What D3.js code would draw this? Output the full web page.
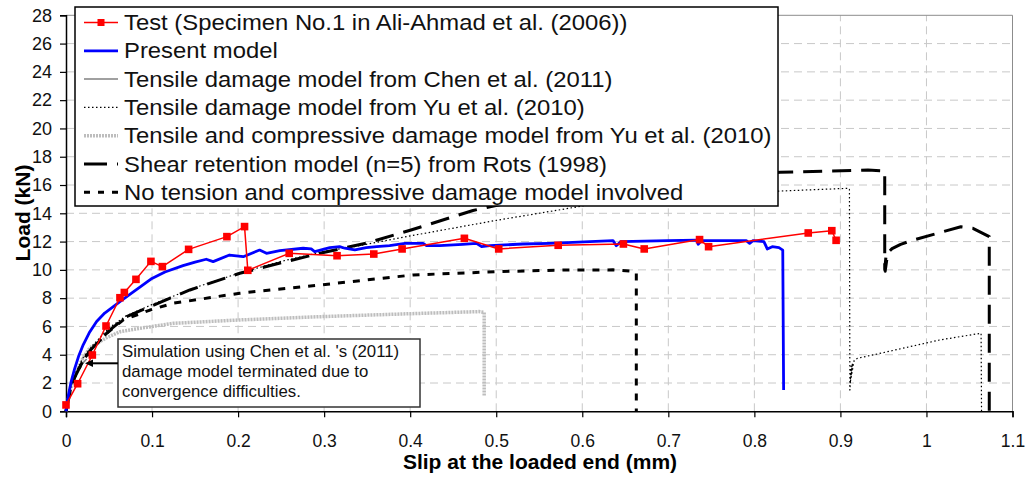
<!DOCTYPE html>
<html><head><meta charset="utf-8">
<script src="https://cdn.jsdelivr.net/npm/d3@7"></script>
<style>
html,body{margin:0;padding:0;background:#fff;}
svg text{font-family:"Liberation Sans",Arial,sans-serif;}
</style></head>
<body><svg id="c" width="1029" height="477"></svg>
<script>
// ---------- data ----------
const xTicks = [0,0.1,0.2,0.3,0.4,0.5,0.6,0.7,0.8,0.9,1,1.1];
const yTicks = [0,2,4,6,8,10,12,14,16,18,20,22,24,26,28];

const testData = [[0,0.45],[0.0135,1.95],[0.0306,3.98],[0.0465,6.03],[0.0627,8.03],[0.0678,8.4],[0.0813,9.33],[0.0987,10.6],[0.112,10.23],[0.1425,11.45],[0.187,12.35],[0.2075,13.06],[0.2113,9.97],[0.2594,11.17],[0.315,11.0],[0.3577,11.12],[0.3906,11.48],[0.463,12.23],[0.5029,11.48],[0.572,11.74],[0.6478,11.83],[0.672,11.48],[0.7363,12.14],[0.7468,11.64],[0.8626,12.61],[0.89,12.77],[0.895,12.09]];

const presentModel = [[0,0],[0.003,1.2],[0.006,2.1],[0.01,3.0],[0.015,3.95],[0.02,4.7],[0.027,5.55],[0.0356,6.35],[0.045,6.95],[0.055,7.4],[0.0627,7.75],[0.075,8.3],[0.0875,8.85],[0.0987,9.35],[0.115,9.85],[0.136,10.3],[0.15,10.55],[0.163,10.75],[0.171,10.58],[0.19,11.05],[0.206,10.93],[0.225,11.4],[0.233,11.17],[0.2485,11.36],[0.2756,11.53],[0.285,11.48],[0.289,11.29],[0.3066,11.57],[0.318,11.64],[0.324,11.53],[0.3357,11.41],[0.349,11.57],[0.361,11.64],[0.376,11.71],[0.394,11.88],[0.415,11.88],[0.419,11.71],[0.434,11.71],[0.461,11.81],[0.477,11.88],[0.483,11.64],[0.4925,11.71],[0.531,11.83],[0.5621,11.88],[0.6357,12.07],[0.6395,11.71],[0.645,12.0],[0.6995,12.07],[0.7328,12.11],[0.7347,11.81],[0.7386,12.07],[0.7906,12.07],[0.7945,11.88],[0.7984,12.07],[0.8111,12.0],[0.815,11.48],[0.8208,11.64],[0.8286,11.57],[0.833,11.4],[0.834,1.5]];

const chenTensile = [[0,0],[0.005,1.6],[0.01,2.5],[0.018,3.3],[0.024,3.7]];

const yuTensile = [[0,0],[0.005,1.6],[0.01,2.6],[0.02,3.8],[0.03,4.6],[0.05,5.9],[0.07,6.75],[0.1,7.55],[0.15,8.75],[0.2,9.75],[0.25,10.6],[0.3,11.3],[0.334,11.64],[0.4,12.4],[0.5,13.5],[0.6086,14.6],[0.7,15.1],[0.78,15.4],[0.829,15.57],[0.9095,15.77],[0.9105,15.7],[0.911,1.5],[0.9125,3.2],[0.9115,2.0],[0.914,3.4],[0.9125,2.4],[0.916,3.6],[0.92,3.75],[0.95,4.15],[1.015,5.04],[1.0635,5.52],[1.064,0]];

const yuTensComp = [[0,0],[0.005,1.5],[0.01,2.5],[0.02,3.8],[0.028,4.5],[0.047,5.2],[0.063,5.63],[0.086,5.87],[0.1246,6.22],[0.202,6.46],[0.295,6.69],[0.4,6.9],[0.48,7.05],[0.486,7.0],[0.486,1.08]];

const rotsShear = [[0,0],[0.005,1.5],[0.0085,2.2],[0.02,3.6],[0.028,4.3],[0.05,5.7],[0.0705,6.7],[0.0976,7.4],[0.144,8.58],[0.202,9.76],[0.25,10.5],[0.295,11.17],[0.35,11.9],[0.4,12.8],[0.473,14.2],[0.55,15.2],[0.65,16.0],[0.75,16.55],[0.83,16.9],[0.932,17.06],[0.9515,17.0],[0.9515,10.0],[0.953,11.0],[0.952,9.9],[0.955,11.2],[0.96,11.5],[0.97,11.8],[0.984,12.1],[1.04,13.05],[1.054,12.94],[1.073,12.35],[1.073,0]];

const noTension = [[0,0],[0.005,1.5],[0.01,2.4],[0.02,3.6],[0.028,4.2],[0.045,5.4],[0.0666,6.46],[0.0976,7.16],[0.1246,7.64],[0.202,8.35],[0.295,8.93],[0.4034,9.64],[0.5,9.87],[0.5776,9.99],[0.6357,10.0],[0.659,9.9],[0.6628,9.8],[0.6628,0]];

const legendLabels = ["Test (Specimen No.1 in Ali-Ahmad et al. (2006))","Present model","Tensile damage model from Chen et al. (2011)","Tensile damage model from Yu et al. (2010)","Tensile and compressive damage model from Yu et al. (2010)","Shear retention model (n=5) from Rots (1998)","No tension and compressive damage model involved"];
const noteLines = ["Simulation using Chen et al. 's (2011)","damage model terminated due to","convergence difficulties."];

// ---------- drawing ----------
const svg = d3.select("#c");
const x = d3.scaleLinear().domain([0,1.1]).range([66,1012.5]);
const y = d3.scaleLinear().domain([0,28]).range([411.3,15.3]);

// grid
const g = svg.append("g");
g.selectAll(".hg").data(yTicks.filter(d=>d>0&&d<28)).enter().append("line")
  .attr("x1",x(0)).attr("x2",x(1.1)).attr("y1",d=>y(d)).attr("y2",d=>y(d))
  .attr("stroke","#c8c8c8").attr("stroke-width",1).attr("stroke-dasharray","8,5");
g.selectAll(".vg").data(xTicks.filter(d=>d>0&&d<1.1)).enter().append("line")
  .attr("y1",y(0)).attr("y2",y(28)).attr("x1",d=>x(d)).attr("x2",d=>x(d))
  .attr("stroke","#c8c8c8").attr("stroke-width",1).attr("stroke-dasharray","8,5");
// frame top/right
svg.append("line").attr("x1",x(0)).attr("x2",x(1.1)).attr("y1",y(28)).attr("y2",y(28)).attr("stroke","#8c8c8c");
svg.append("line").attr("x1",x(1.1)).attr("x2",x(1.1)).attr("y1",y(28)).attr("y2",y(0)).attr("stroke","#8c8c8c");

// axes
const xAxis = d3.axisBottom(x).tickValues(xTicks).tickSize(6).tickFormat(d=>d===1?"1":(d===0?"0":d3.format(".1f")(d)));
const ax = svg.append("g").attr("transform",`translate(0,${y(0)})`).call(xAxis);
ax.select(".domain").attr("stroke","#000").attr("stroke-width",1.5);
ax.selectAll(".tick line").attr("stroke","#000").attr("stroke-width",1.2);
ax.selectAll(".tick text").attr("font-size",17.5).attr("fill","#111").attr("dy",null).attr("y",36)
  .attr("font-family","'Liberation Sans',Arial,sans-serif");
const yAxis = d3.axisLeft(y).tickValues(yTicks).tickSize(6);
const ay = svg.append("g").attr("transform",`translate(${x(0)},0)`).call(yAxis);
ay.select(".domain").attr("stroke","#000").attr("stroke-width",1.5);
ay.selectAll(".tick line").attr("stroke","#000").attr("stroke-width",1.2);
ay.selectAll(".tick text").attr("font-size",18).attr("fill","#111").attr("x",-14)
  .attr("font-family","'Liberation Sans',Arial,sans-serif");

// axis titles
svg.append("text").attr("x",540).attr("y",469).attr("text-anchor","middle")
  .attr("font-size",21).attr("font-weight","bold").text("Slip at the loaded end (mm)");
svg.append("text").attr("transform","translate(30,213) rotate(-90)").attr("text-anchor","middle")
  .attr("font-size",21).attr("font-weight","bold").text("Load (kN)");

const line = d3.line().x(d=>x(d[0])).y(d=>y(d[1]));
const styles = [
  {stroke:"#ff0000",w:1.5,dash:null},
  {stroke:"#0000ff",w:2.8,dash:null},
  {stroke:"#808080",w:1.5,dash:null},
  {stroke:"#000",w:1.2,dash:"1.5,2.5"},
  {stroke:"#bdbdbd",w:3.5,dash:"2,1"},
  {stroke:"#000",w:3,dash:"19,10"},
  {stroke:"#000",w:3,dash:"7,8"}
];
const plotG = svg.append("g");
function drawSeries(data, s){
  plotG.append("path").datum(data).attr("d",line).attr("fill","none")
    .attr("stroke",s.stroke).attr("stroke-width",s.w).attr("stroke-dasharray",s.dash)
    .attr("stroke-linejoin","round");
}
drawSeries(yuTensComp, styles[4]);
drawSeries(chenTensile, styles[2]);
drawSeries(yuTensile, styles[3]);
drawSeries(noTension, styles[6]);
drawSeries(rotsShear, styles[5]);
drawSeries(presentModel, styles[1]);
drawSeries(testData, styles[0]);
plotG.selectAll(".mk").data(testData).enter().append("rect")
  .attr("x",d=>x(d[0])-3.8).attr("y",d=>y(d[1])-3.8).attr("width",7.6).attr("height",7.6).attr("fill","#ff0000");

// legend
const lg = svg.append("g");
lg.append("rect").attr("x",75).attr("y",7).attr("width",703).attr("height",199)
  .attr("fill","#fff").attr("stroke","#000").attr("stroke-width",1.5);
legendLabels.forEach((t,i)=>{
  const by = 30 + i*28.3;
  const cy = by - 7.5;
  const s = styles[i];
  lg.append("line").attr("x1",84).attr("x2",118).attr("y1",cy).attr("y2",cy)
    .attr("stroke",s.stroke).attr("stroke-width",s.w).attr("stroke-dasharray",
      i===5?"23,10":(i===6?"6,8":s.dash));
  if(i===0) lg.append("rect").attr("x",101-3.5).attr("y",cy-3.5).attr("width",7).attr("height",7).attr("fill","#ff0000");
  lg.append("text").attr("transform",`translate(124,${by}) scale(1.06,1)`)
    .attr("font-size",22.5).attr("fill","#111").text(t);
});

// annotation
const an = svg.append("g");
an.append("rect").attr("x",118).attr("y",339).attr("width",302).attr("height",68)
  .attr("fill","#fff").attr("stroke","#333").attr("stroke-width",1.5);
noteLines.forEach((t,i)=>{
  an.append("text").attr("x",122).attr("y",357+i*20).attr("font-size",16.8).attr("fill","#111").text(t);
});
an.append("line").attr("x1",118).attr("x2",90).attr("y1",363.3).attr("y2",363.3).attr("stroke","#000").attr("stroke-width",2);
an.append("path").attr("d","M85,363.3 L93,359.5 L93,367.1 Z").attr("fill","#000");
</script></body></html>
